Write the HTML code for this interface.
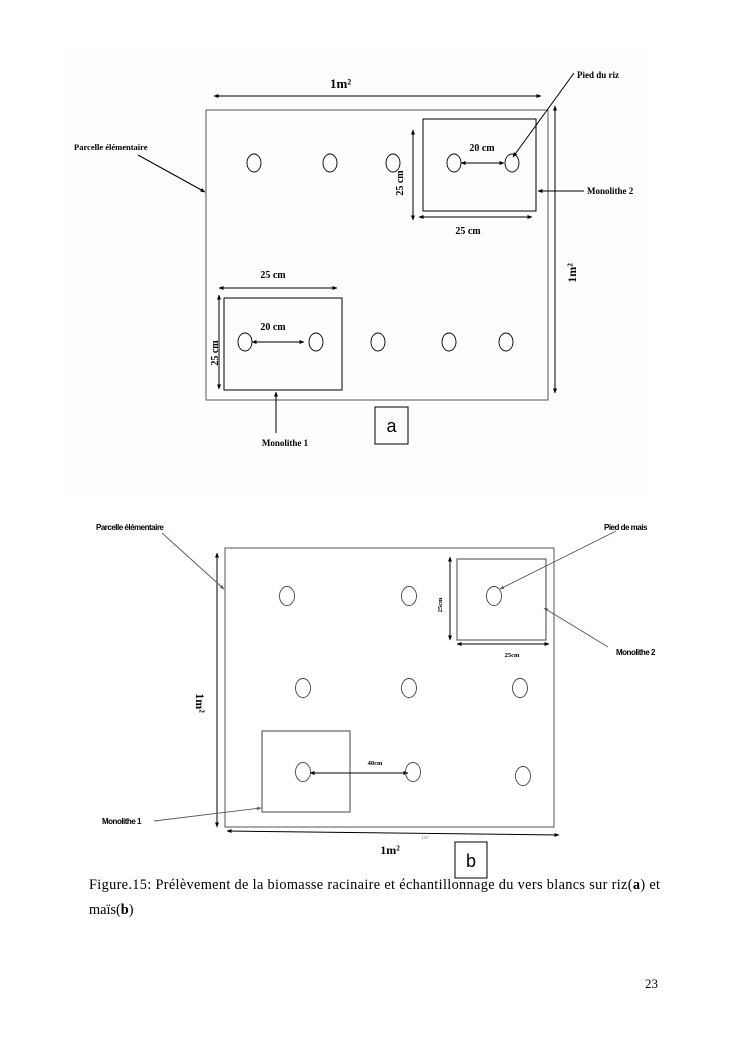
<!DOCTYPE html>
<html><head><meta charset="utf-8"><style>
html,body{margin:0;padding:0;background:#fff;}
svg{display:block;}
</style></head><body>
<svg width="744" height="1053" viewBox="0 0 744 1053" xmlns="http://www.w3.org/2000/svg" font-family="Liberation Serif, serif">
<defs>
<marker id="ah" viewBox="0 0 10 10" refX="9" refY="5" markerWidth="5" markerHeight="5" orient="auto-start-reverse"><path d="M0,1 L10,5 L0,9 z" fill="#000"/></marker>
<marker id="ab" viewBox="0 0 10 10" refX="9" refY="5" markerWidth="5" markerHeight="5" orient="auto-start-reverse"><path d="M0,1 L10,5 L0,9 z" fill="#4a5a7a"/></marker>
</defs>
<rect x="64" y="46" width="584" height="448" fill="#fdfdfd"/>
<!-- ===== Figure a ===== -->
<g stroke="#000" fill="none" stroke-width="1">
<rect x="206" y="110" width="342" height="290" stroke="#555"/>
<rect x="423" y="119" width="113" height="92"/>
<rect x="224" y="298" width="118" height="92"/>
<line x1="214" y1="96" x2="541" y2="96" marker-start="url(#ah)" marker-end="url(#ah)"/>
<line x1="555" y1="106" x2="555" y2="393" marker-start="url(#ah)" marker-end="url(#ah)"/>
<line x1="574" y1="73" x2="513" y2="157" marker-end="url(#ah)"/>
<line x1="138" y1="155" x2="205" y2="192" marker-end="url(#ah)"/>
<line x1="461" y1="163" x2="504" y2="163" marker-start="url(#ah)" marker-end="url(#ah)"/>
<line x1="413" y1="130" x2="413" y2="220" marker-start="url(#ah)" marker-end="url(#ah)"/>
<line x1="419" y1="217" x2="532" y2="217" marker-start="url(#ah)" marker-end="url(#ah)"/>
<line x1="584" y1="191" x2="538" y2="191" marker-end="url(#ah)"/>
<line x1="219" y1="288" x2="337" y2="288" marker-start="url(#ah)" marker-end="url(#ah)"/>
<line x1="219" y1="295" x2="219" y2="389" marker-start="url(#ah)" marker-end="url(#ah)"/>
<line x1="252" y1="342" x2="304" y2="342" marker-start="url(#ah)" marker-end="url(#ah)"/>
<line x1="276" y1="433" x2="276" y2="392" marker-end="url(#ah)"/>
<g stroke-width="0.9">
<ellipse cx="254" cy="163" rx="7" ry="9"/><ellipse cx="330" cy="163" rx="7" ry="9"/><ellipse cx="393" cy="163" rx="7" ry="9"/><ellipse cx="454" cy="163" rx="7" ry="9"/><ellipse cx="512" cy="163" rx="7" ry="9"/>
<ellipse cx="245" cy="342" rx="7" ry="9"/><ellipse cx="316" cy="342" rx="7" ry="9"/><ellipse cx="378" cy="342" rx="7" ry="9"/><ellipse cx="449" cy="342" rx="7" ry="9"/><ellipse cx="506" cy="342" rx="7" ry="9"/>
</g>
<rect x="375" y="407" width="33" height="37"/>
</g>
<g font-weight="bold" fill="#000">
<text x="330" y="88" font-size="13">1m²</text>
<text x="577" y="78" font-size="9">Pied du riz</text>
<text x="74" y="150" font-size="8.5">Parcelle élémentaire</text>
<text x="482" y="151" font-size="10" text-anchor="middle">20 cm</text>
<text x="468" y="234" font-size="10" text-anchor="middle">25 cm</text>
<text x="587" y="194" font-size="9">Monolithe 2</text>
<text x="273" y="278" font-size="10" text-anchor="middle">25 cm</text>
<text x="273" y="330" font-size="10" text-anchor="middle">20 cm</text>
<text x="285" y="446" font-size="9" text-anchor="middle">Monolithe 1</text>
<text transform="translate(403,183) rotate(-90)" font-size="10" text-anchor="middle">25 cm</text>
<text transform="translate(218,353) rotate(-90)" font-size="10" text-anchor="middle">25 cm</text>
<text transform="translate(576,273) rotate(-90)" font-size="12" text-anchor="middle">1m²</text>
</g>
<text x="391.5" y="432" font-family="Liberation Sans, sans-serif" font-size="18" text-anchor="middle">a</text>

<!-- ===== Figure b ===== -->
<g stroke="#000" fill="none" stroke-width="1">
<rect x="225" y="548" width="329" height="279" stroke="#555"/>
<rect x="457" y="559" width="89" height="81" stroke="#444"/>
<rect x="262" y="731" width="88" height="81" stroke="#444"/>
<line x1="217" y1="553" x2="217" y2="827" marker-start="url(#ah)" marker-end="url(#ah)"/>
<line x1="227" y1="831" x2="559" y2="835" marker-start="url(#ah)" marker-end="url(#ah)"/>
<line x1="450" y1="557" x2="450" y2="640" marker-start="url(#ah)" marker-end="url(#ah)"/>
<line x1="457" y1="644" x2="549" y2="644" marker-start="url(#ah)" marker-end="url(#ah)"/>
<line x1="310" y1="773" x2="408" y2="773" marker-start="url(#ah)" marker-end="url(#ah)"/>
<g stroke-width="0.9" stroke="#444">
<ellipse cx="287" cy="596" rx="7.5" ry="9.5"/><ellipse cx="409" cy="596" rx="7.5" ry="9.5"/><ellipse cx="494" cy="596" rx="7.5" ry="9.5"/>
<ellipse cx="303" cy="688" rx="7.5" ry="9.5"/><ellipse cx="409" cy="688" rx="7.5" ry="9.5"/><ellipse cx="520" cy="688" rx="7.5" ry="9.5"/>
<ellipse cx="303" cy="772" rx="7.5" ry="9.5"/><ellipse cx="413" cy="772" rx="7.5" ry="9.5"/><ellipse cx="523" cy="776" rx="7.5" ry="9.5"/>
</g>
</g>
<g stroke="#4a5a7a" fill="none" stroke-width="0.9">
<line x1="162" y1="533" x2="224" y2="589" marker-end="url(#ab)"/>
<line x1="616" y1="531" x2="500" y2="589" marker-end="url(#ab)"/>
<line x1="608" y1="647" x2="544" y2="608" marker-end="url(#ab)"/>
<line x1="154" y1="821" x2="261" y2="808" marker-end="url(#ab)"/>
</g>
<g font-family="Liberation Sans, sans-serif" font-weight="bold" font-size="8" fill="#000" letter-spacing="-0.5">
<text x="96" y="530">Parcelle élémentaire</text>
<text x="604" y="530">Pied de mais</text>
<text x="616" y="655">Monolithe 2</text>
<text x="102" y="824">Monolithe 1</text>
</g>
<g font-weight="bold" fill="#000">
<text transform="translate(442,605) rotate(-90)" font-size="6.5" text-anchor="middle">25cm</text>
<text x="512" y="657" font-size="6.5" text-anchor="middle">25cm</text>
<text x="375" y="765" font-size="6.5" text-anchor="middle">40cm</text>
<text transform="translate(196,703) rotate(90)" font-size="12" text-anchor="middle">1m²</text>
<text x="390" y="854" font-size="12" text-anchor="middle">1m²</text>
</g>
<text x="425" y="839" font-size="5" fill="#888" text-anchor="middle">1m²</text>
<rect x="455" y="842" width="32" height="36" fill="none" stroke="#000"/>
<text x="471" y="867" font-family="Liberation Sans, sans-serif" font-size="18" text-anchor="middle">b</text>

<!-- caption -->
<text x="89" y="889" font-size="14.3" fill="#000" textLength="571" lengthAdjust="spacing">Figure.15: Prélèvement de la biomasse racinaire et échantillonnage du vers blancs sur riz(<tspan font-weight="bold">a</tspan>) et</text>
<text x="89" y="914" font-size="14.3" fill="#000">maïs(<tspan font-weight="bold">b</tspan>)</text>
<text x="658" y="988" font-size="13" fill="#000" text-anchor="end">23</text>
</svg>
</body></html>
